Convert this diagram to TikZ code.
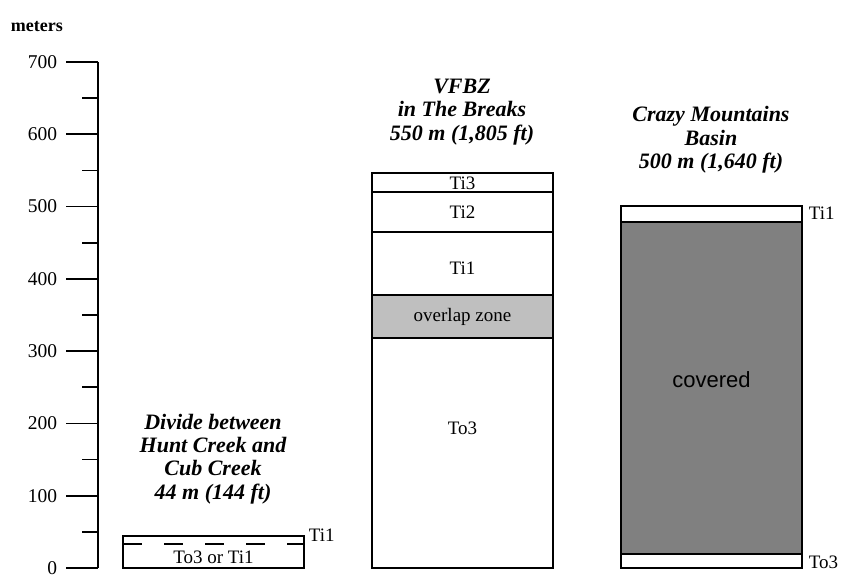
\documentclass[tikz,border=0pt]{standalone}
\usepackage{fontspec}
\setmainfont{Liberation Serif}
\newfontfamily\sansfnt{Liberation Sans}
\begin{document}
\begin{tikzpicture}[x=1pt,y=-1pt,
  line width=1.8pt,
  box/.style={draw=black,line width=1.7pt},
  lbl/.style={inner sep=0pt,font=\fontsize{19}{22}\selectfont},
  ttl/.style={inner sep=0pt,align=center,font=\fontsize{22}{23.4}\selectfont\bfseries\itshape},
  ticklbl/.style={inner sep=0pt,anchor=east,font=\fontsize{19.5}{22}\selectfont}]
\useasboundingbox (0,0) rectangle (842,577);
% axis
\node[inner sep=0pt,anchor=base west,font=\fontsize{18}{20}\selectfont\bfseries] (meters) at (10,32) {meters};
\draw (98,62) -- (98,568);
\foreach \k in {0,...,7}{
  \pgfmathsetmacro{\yy}{568-72.29*\k}
  \draw (66,\yy) -- (98,\yy);
  \pgfmathtruncatemacro{\vv}{100*\k}
  \node[ticklbl] (t\k) at (58,\yy) {\vv};
}
\foreach \k in {0,...,6}{
  \pgfmathsetmacro{\yy}{568-72.29*\k-36.14}
  \draw (82,\yy) -- (98,\yy);
}
% left column
\draw[box] (123,536) rectangle (304,568);
\draw[line width=1.7pt,dash pattern=on 19pt off 22pt] (123,544) -- (304,544);
\node[lbl] (lto) at (213.5,557) {To3 or Ti1};
\node[lbl,anchor=west] (lti) at (308,535) {Ti1};
\node[ttl] (ltitle) at (213,459) {Divide between\\Hunt Creek and\\Cub Creek\\44 m (144 ft)};
% middle column
\fill[black!25] (372,295) rectangle (553,338);
\draw[box] (372,173) rectangle (553,568);
\draw[box] (372,192) -- (553,192);
\draw[box] (372,232) -- (553,232);
\draw[box] (372,295) -- (553,295);
\draw[box] (372,338) -- (553,338);
\node[lbl] (mti3) at (462.5,183) {Ti3};
\node[lbl] (mti2) at (462.5,212) {Ti2};
\node[lbl] (mti1) at (462.5,268) {Ti1};
\node[lbl] (mov) at (462.5,317) {overlap zone};
\node[lbl] (mto) at (462.5,428) {To3};
\node[ttl] (mtitle) at (462,112) {VFBZ\\in The Breaks\\550 m (1,805 ft)};
% right column
\fill[black!50] (621,222) rectangle (802,554);
\draw[box] (621,206) rectangle (802,568);
\draw[box] (621,222) -- (802,222);
\draw[box] (621,554) -- (802,554);
\node[inner sep=0pt,font=\fontsize{22}{24}\selectfont\sansfnt] (cov) at (711.5,380) {covered};
\node[lbl,anchor=west] (rti) at (808,213) {Ti1};
\node[lbl,anchor=west] (rto) at (808,562) {To3};
\node[ttl] (rtitle) at (711,140) {Crazy Mountains\\Basin\\500 m (1,640 ft)};
\end{tikzpicture}
\end{document}
